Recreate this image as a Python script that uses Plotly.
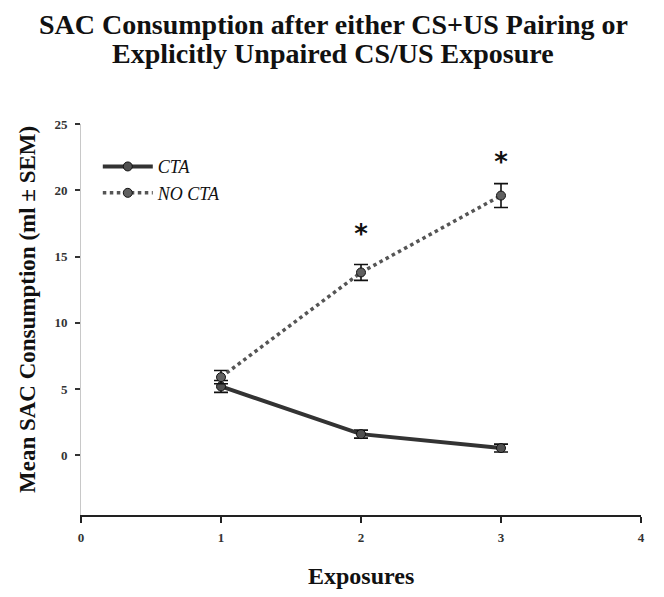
import plotly.graph_objects as go

exposures = [1, 2, 3]
cta_mean = [5.2, 1.6, 0.55]
cta_sem = [0.45, 0.3, 0.3]
nocta_mean = [5.9, 13.8, 19.6]
nocta_sem = [0.5, 0.6, 0.9]
sig_x = [2, 3]
sig_y = [16.5, 21.95]
x_ticks = [0, 1, 2, 3, 4]
y_ticks = [0, 5, 10, 15, 20, 25]

serif = "Liberation Serif, Times New Roman, serif"

fig = go.Figure()
fig.add_trace(go.Scatter(
    x=exposures, y=cta_mean, name="<i>CTA</i>", mode="lines+markers",
    line=dict(color="#333333", width=4),
    marker=dict(symbol="circle", size=9, color="#505050", line=dict(color="#111111", width=1)),
    error_y=dict(type="data", array=cta_sem, visible=True, color="#111111", thickness=1.6, width=7),
))
fig.add_trace(go.Scatter(
    x=exposures, y=nocta_mean, name="<i>NO CTA</i>", mode="lines+markers",
    line=dict(color="#555555", width=3.5, dash="dot"),
    marker=dict(symbol="circle", size=9, color="#606060", line=dict(color="#111111", width=1)),
    error_y=dict(type="data", array=nocta_sem, visible=True, color="#111111", thickness=1.6, width=7),
))
fig.add_trace(go.Scatter(
    x=sig_x, y=sig_y, mode="text", text=["*"] * len(sig_x), showlegend=False,
    textfont=dict(family="DejaVu Sans, sans-serif", size=26, color="#111111", weight="bold"),
    hoverinfo="skip",
))

title_lines = ["SAC Consumption after either CS+US Pairing or", "Explicitly Unpaired CS/US Exposure"]
annotations = []
for txt, ypx in zip(title_lines, [24, 53]):
    annotations.append(dict(
        text=f"<b>{txt}</b>", xref="paper", yref="paper", x=(333 - 81) / 560, y=(515 - ypx) / 391,
        xanchor="center", yanchor="middle", showarrow=False,
        font=dict(family=serif, size=28, color="#111111"),
    ))
annotations.append(dict(
    text="<b>Exposures</b>", xref="paper", yref="paper", x=0.5, y=(515 - 576) / 391,
    xanchor="center", yanchor="middle", showarrow=False,
    font=dict(family=serif, size=24, color="#111111"),
))
annotations.append(dict(
    text="<b>Mean SAC Consumption (ml ± SEM)</b>", xref="paper", yref="paper",
    x=(27 - 81) / 560, y=(515 - 310) / 391, textangle=-90,
    xanchor="center", yanchor="middle", showarrow=False,
    font=dict(family=serif, size=23, color="#111111"),
))

fig.update_layout(
    width=656, height=589,
    paper_bgcolor="white", plot_bgcolor="white",
    margin=dict(l=73, r=23, t=116, b=82, autoexpand=False),
    font=dict(family=serif, color="#111111"),
    annotations=annotations,
    legend=dict(
        x=0.03, y=0.938, xanchor="left", yanchor="top",
        bgcolor="rgba(0,0,0,0)", borderwidth=0,
        font=dict(family=serif, size=18, color="#111111"),
        itemwidth=50,
    ),
    xaxis=dict(
        range=[0, 4], tickvals=x_ticks, ticktext=[str(v) for v in x_ticks], automargin=False,
        showgrid=False, zeroline=False, showline=True, linecolor="#222222", linewidth=1.5,
        ticks="outside", ticklen=6, tickcolor="#222222", tickwidth=1.5, ticklabelstandoff=4,
        tickfont=dict(family=serif, size=13, color="#333333", weight="bold"),
    ),
    yaxis=dict(
        range=[-4.5, 25], tickvals=y_ticks, ticktext=[str(v) for v in y_ticks], automargin=False,
        showgrid=False, zeroline=False, showline=True, linecolor="#c8c8c8", linewidth=1,
        ticks="outside", ticklen=5, tickcolor="#333333", tickwidth=1.5, ticklabelstandoff=5,
        tickfont=dict(family=serif, size=13, color="#333333", weight="bold"),
    ),
)

fig.write_html("out.html")
